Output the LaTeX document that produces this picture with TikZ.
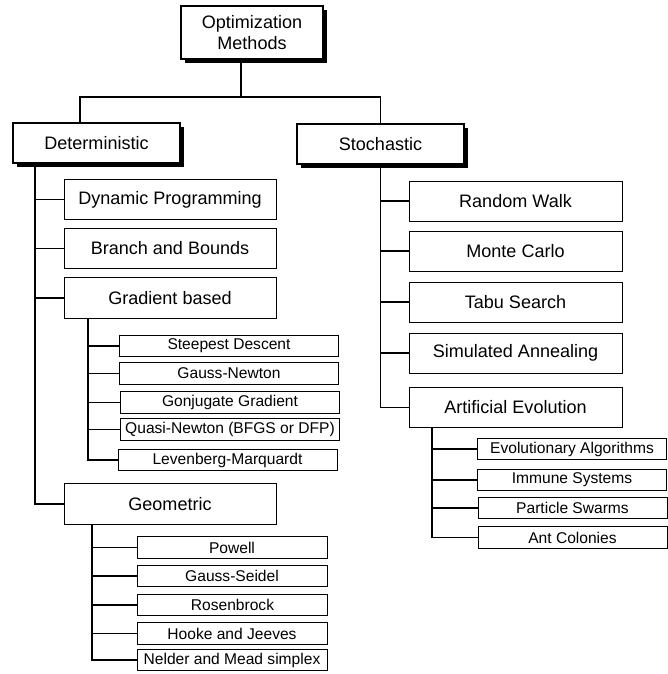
\documentclass[tikz,border=0pt]{standalone}
\usepackage{fontspec}
\setmainfont{Liberation Sans}
\usetikzlibrary{shadows}

\tikzset{
	headbox/.style={draw, fill=white, line width=1pt, align=center, font=\fontsize{15.4}{18}\selectfont,
		drop shadow={shadow xshift=0.12cm, shadow yshift=-0.12cm, fill=black, opacity=1}},
	groupbox/.style={draw, fill=white, line width=0.8pt, minimum height=1.22cm, font=\fontsize{15.4}{18}\selectfont},
	leafbox/.style={draw, fill=white, line width=0.8pt, minimum height=0.65cm, inner sep=1pt, font=\fontsize{13.3}{15}\selectfont},
	link/.style={line width=1pt},
}

\begin{document}
\begin{tikzpicture}[x=0.03cm, y=-0.03cm]
	\useasboundingbox (0,0) rectangle (667,674);
	% root and first level
	\node[headbox, minimum width=4.26cm, minimum height=1.59cm] (opt) at (252,32.5) {Optimization\\Methods};
	\node[headbox, minimum width=5.01cm, minimum height=1.2cm] (det) at (96.5,143) {Deterministic};
	\node[headbox, minimum width=5.01cm, minimum height=1.2cm] (sto) at (380.5,144) {Stochastic};
	\coordinate (bus) at (241,97);
	\draw[link] (bus) -- (bus |- opt.south);
	\draw[link] ([xshift=-0.495cm]det.north) |- (bus) -| (sto.north);

	% deterministic branch
	\node[groupbox, minimum width=6.36cm] (dynprog) at (170,199.5) {Dynamic Programming};
	\node[groupbox, minimum width=6.36cm] (branch) at (170,248.5) {Branch and Bounds};
	\node[groupbox, minimum width=6.36cm] (grad) at (170,298) {Gradient based};
	\node[groupbox, minimum width=6.36cm] (geom) at (170,504) {Geometric};
	\draw[link] ([xshift=-1.845cm]det.south) |- (dynprog.west);
	\draw[link] ([xshift=-1.845cm]det.south) |- (branch.west);
	\draw[link] ([xshift=-1.845cm]det.south) |- (grad.west);
	\draw[link] ([xshift=-1.845cm]det.south) |- (geom.west);

	% gradient based methods
	\node[leafbox, minimum width=6.57cm] (steep) at (229,346) {Steepest Descent};
	\node[leafbox, minimum width=6.57cm] (gaussnewton) at (229,373.5) {Gauss-Newton};
	\node[leafbox, minimum width=6.57cm] (conjgrad) at (230,402.5) {Gonjugate Gradient};
	\node[leafbox, minimum width=6.57cm] (quasi) at (230,429.5) {Quasi-Newton (BFGS or DFP)};
	\node[leafbox, minimum width=6.57cm] (levmar) at (227.5,460) {Levenberg-Marquardt};
	\draw[link] ([xshift=-2.46cm]grad.south) |- (steep.west);
	\draw[link] ([xshift=-2.46cm]grad.south) |- (gaussnewton.west);
	\draw[link] ([xshift=-2.46cm]grad.south) |- (conjgrad.west);
	\draw[link] ([xshift=-2.46cm]grad.south) |- (quasi.west);
	\draw[link] ([xshift=-2.46cm]grad.south) |- (levmar.west);

	% geometric methods
	\node[leafbox, minimum width=5.7cm] (powell) at (232,547.5) {Powell};
	\node[leafbox, minimum width=5.7cm] (gaussseidel) at (232,576) {Gauss-Seidel};
	\node[leafbox, minimum width=5.7cm] (rosen) at (232.5,605) {Rosenbrock};
	\node[leafbox, minimum width=5.7cm] (hooke) at (232,633.5) {Hooke and Jeeves};
	\node[leafbox, minimum width=5.7cm] (nelder) at (232,660) {Nelder and Mead simplex};
	\draw[link] ([xshift=-2.34cm]geom.south) |- (powell.west);
	\draw[link] ([xshift=-2.34cm]geom.south) |- (gaussseidel.west);
	\draw[link] ([xshift=-2.34cm]geom.south) |- (rosen.west);
	\draw[link] ([xshift=-2.34cm]geom.south) |- (hooke.west);
	\draw[link] ([xshift=-2.34cm]geom.south) |- (nelder.west);

	% stochastic branch
	\node[groupbox, minimum width=6.39cm, minimum height=1.2cm] (walk) at (515.5,201) {Random Walk};
	\node[groupbox, minimum width=6.39cm, minimum height=1.2cm] (monte) at (515.5,251) {Monte Carlo};
	\node[groupbox, minimum width=6.39cm, minimum height=1.2cm] (tabu) at (515.5,302) {Tabu Search};
	\node[groupbox, minimum width=6.39cm, minimum height=1.2cm] (anneal) at (515.5,353) {Simulated Annealing};
	\node[groupbox, minimum width=6.39cm, minimum height=1.2cm] (artevo) at (515.5,407.5) {Artificial Evolution};
	\draw[link] (sto.south) |- (walk.west);
	\draw[link] (sto.south) |- (monte.west);
	\draw[link] (sto.south) |- (tabu.west);
	\draw[link] (sto.south) |- (anneal.west);
	\draw[link] (sto.south) |- (artevo.west);

	% artificial evolution methods
	\node[leafbox, minimum width=5.67cm] (evoalg) at (572,449) {Evolutionary Algorithms};
	\node[leafbox, minimum width=5.67cm] (immune) at (572,480) {Immune Systems};
	\node[leafbox, minimum width=5.67cm] (swarm) at (572.5,508) {Particle Swarms};
	\node[leafbox, minimum width=5.67cm] (ants) at (572.5,537.5) {Ant Colonies};
	\draw[link] ([xshift=-2.505cm]artevo.south) |- (evoalg.west);
	\draw[link] ([xshift=-2.505cm]artevo.south) |- (immune.west);
	\draw[link] ([xshift=-2.505cm]artevo.south) |- (swarm.west);
	\draw[link] ([xshift=-2.505cm]artevo.south) |- (ants.west);
\end{tikzpicture}
\end{document}
